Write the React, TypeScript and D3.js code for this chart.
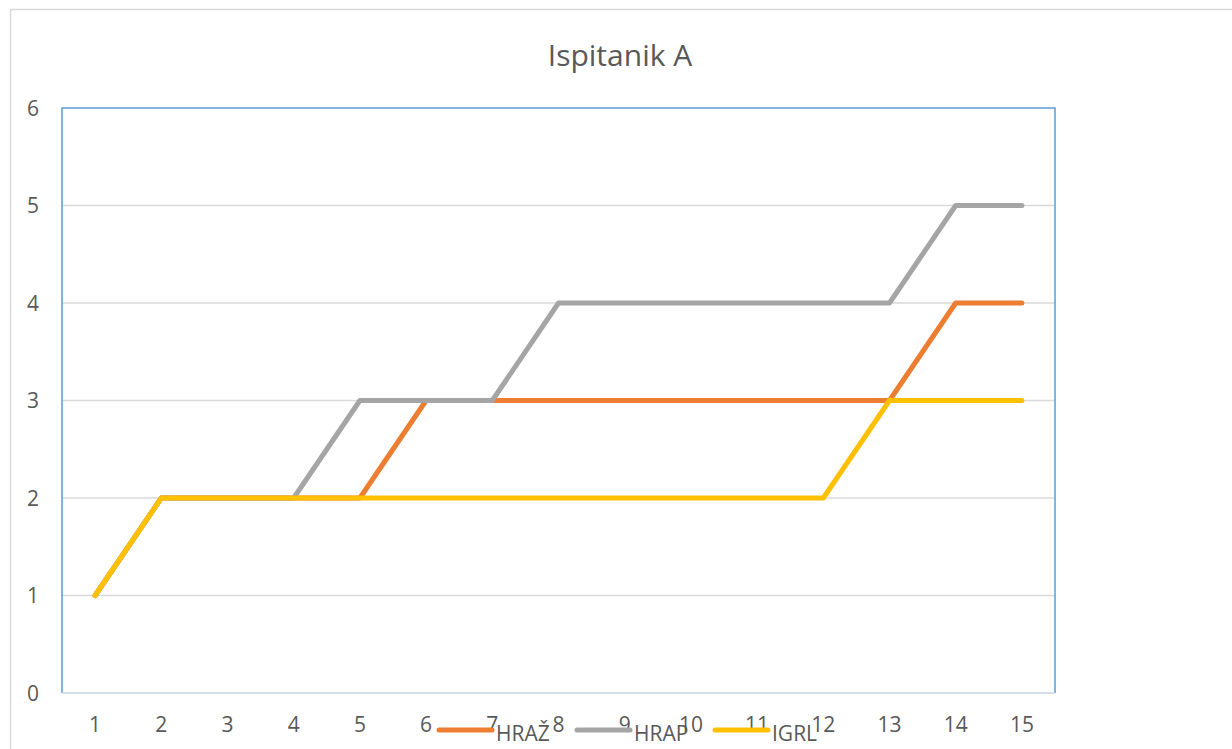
import React, { useEffect, useRef } from 'react';
import * as d3 from 'd3';

const categories = ['1', '2', '3', '4', '5', '6', '7', '8', '9', '10', '11', '12', '13', '14', '15'];
const hraz = [1, 2, 2, 2, 2, 3, 3, 3, 3, 3, 3, 3, 3, 4, 4];
const hrap = [1, 2, 2, 2, 3, 3, 3, 4, 4, 4, 4, 4, 4, 5, 5];
const igrl = [1, 2, 2, 2, 2, 2, 2, 2, 2, 2, 2, 2, 3, 3, 3];
const yTicks = [0, 1, 2, 3, 4, 5, 6];

const series = [
  { name: 'HRAŽ', values: hraz, color: '#ED7D31' },
  { name: 'HRAP', values: hrap, color: '#A5A5A5' },
  { name: 'IGRL', values: igrl, color: '#FFC000' },
];

const App = () => {
  const svgRef = useRef<SVGSVGElement>(null);

  useEffect(() => {
    const W = 1232;
    const H = 749;
    const m = { left: 62, right: 1055, top: 108, bottom: 693 };
    const font = '"Open Sans", "Liberation Sans", sans-serif';
    const svg = d3.select(svgRef.current).attr('width', W).attr('height', H);
    svg.selectAll('*').remove();

    // outer chart frame
    svg.append('rect').attr('x', 10.5).attr('y', 9.5).attr('width', W).attr('height', H)
      .attr('fill', '#fff').attr('stroke', '#d9d9d9').attr('stroke-width', 1.5);

    svg.append('text').attr('x', 620).attr('y', 66).attr('text-anchor', 'middle')
      .attr('font-family', font).attr('font-size', 30).attr('fill', '#595959')
      .text('Ispitanik A');

    const x = d3.scaleBand().domain(categories).range([m.left, m.right]);
    const y = d3.scaleLinear().domain([0, 6]).range([m.bottom, m.top]);
    const cx = (i: number) => (x(categories[i]) as number) + x.bandwidth() / 2;

    // gridlines
    svg.append('g').selectAll('line').data(yTicks.slice(1, -1)).join('line')
      .attr('x1', m.left).attr('x2', m.right)
      .attr('y1', d => y(d)).attr('y2', d => y(d))
      .attr('stroke', '#d9d9d9').attr('stroke-width', 1.5);

    // plot border
    svg.append('path')
      .attr('d', `M${m.left},${m.bottom}V${m.top}H${m.right}V${m.bottom}`)
      .attr('fill', 'none').attr('stroke', '#5B9BD5').attr('stroke-width', 1.5);
    svg.append('line').attr('x1', m.left).attr('x2', m.right)
      .attr('y1', m.bottom).attr('y2', m.bottom)
      .attr('stroke', '#C5D3E2').attr('stroke-width', 1.5);

    svg.append('g').selectAll('text').data(yTicks).join('text')
      .attr('x', 39).attr('y', d => y(d)).attr('dy', '0.36em').attr('text-anchor', 'end')
      .attr('font-family', font).attr('font-size', 21).attr('fill', '#595959')
      .text(d => d);

    svg.append('g').selectAll('text').data(categories).join('text')
      .attr('x', (_d, i) => cx(i)).attr('y', 724).attr('dy', '0.36em').attr('text-anchor', 'middle')
      .attr('font-family', font).attr('font-size', 21).attr('fill', '#595959')
      .text(d => d);

    const line = d3.line<number>().x((_d, i) => cx(i)).y(d => y(d));
    series.forEach(s => {
      svg.append('path').datum(s.values).attr('d', line)
        .attr('fill', 'none').attr('stroke', s.color).attr('stroke-width', 5)
        .attr('stroke-linecap', 'round').attr('stroke-linejoin', 'round');
    });

    // legend (overlaps the x labels, as in the original)
    const legendX = [437, 575, 713];
    series.forEach((s, i) => {
      const g = svg.append('g').attr('transform', `translate(${legendX[i]},730)`);
      g.append('line').attr('x1', 2).attr('x2', 55).attr('y1', 0).attr('y2', 0)
        .attr('stroke', s.color).attr('stroke-width', 5).attr('stroke-linecap', 'round');
      g.append('text').attr('x', 59).attr('y', 2).attr('dy', '0.45em')
        .attr('font-family', font).attr('font-size', 21).attr('fill', '#595959')
        .text(s.name);
    });
  }, []);

  return (
    <svg ref={svgRef} style={{ position: 'absolute', left: 0, top: 0, display: 'block' }}></svg>
  );
};

export default App;
